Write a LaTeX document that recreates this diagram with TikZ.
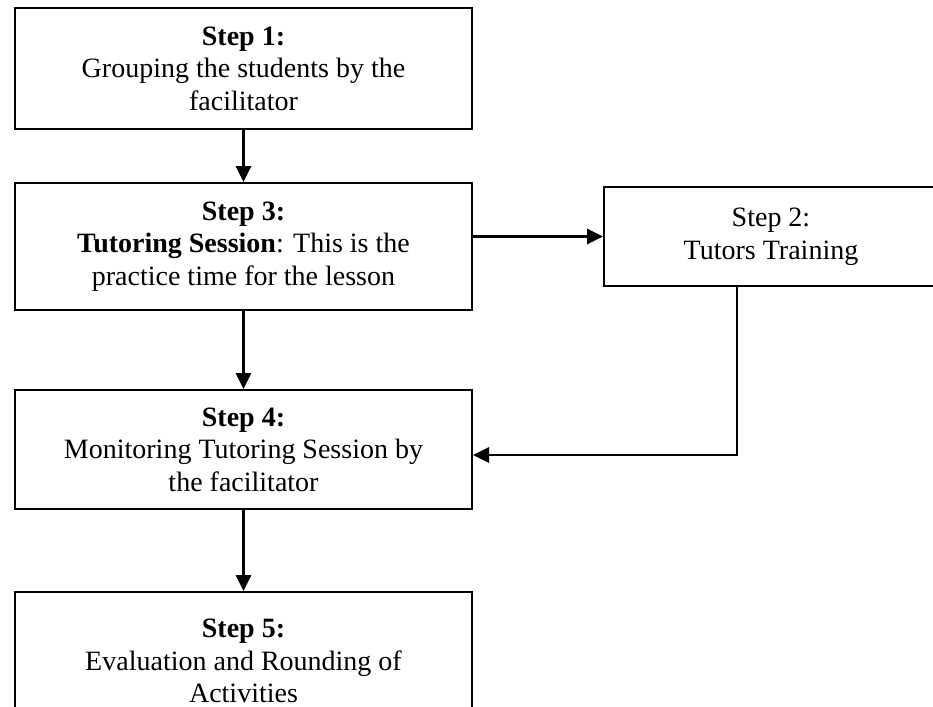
\documentclass[tikz,border=0pt]{standalone}
\usepackage{fontspec}
\setmainfont{Liberation Serif}
\usepackage{xcolor}
\definecolor{lineDark}{HTML}{000000}
\usepackage{tikz}
\usetikzlibrary{positioning,calc,arrows.meta}
\tikzset{
  stepBox/.style={
    rectangle,
    draw=lineDark,
    fill=white,
    line width=1pt,
    inner sep=0pt,
    minimum width=228.5pt,
    minimum height=60.5pt,
    align=center,
    font=\fontsize{14}{16.25}\selectfont
 },
  arrowLine/.style={
    -{Triangle[length=8pt,width=7.5pt]},
    line width=1.4pt,
    color=lineDark
 }
}

\begin{document}
\begin{tikzpicture}
            \useasboundingbox (0,0) rectangle (466.5pt,-353.5pt);
            \clip (0,0) rectangle (466.5pt,-353.5pt);
            % Step 1 box
            \node[stepBox, anchor=north west] (step1) at (7pt,-3.5pt)
                {\textbf{Step 1:}\\Grouping the students by the\\facilitator};
            % Step 3 box
            \node[stepBox, minimum height=63.5pt, below=26pt of step1] (step3)
                {\textbf{Step 3:}\\\textbf{Tutoring Session}: This is the\\practice time for the lesson};
            % Step 2 box (side)
            \node[stepBox, minimum width=167pt, minimum height=49.5pt,
                  below right=2pt and 65pt of step3.north east] (step2)
                {Step 2:\\Tutors Training};
            % Step 4 box
            \node[stepBox, minimum height=59.5pt, below=39pt of step3] (step4)
                {\textbf{Step 4:}\\Monitoring Tutoring Session by\\the facilitator};
            % Step 5 box
            \node[stepBox, minimum height=69pt, below=40.5pt of step4] (step5)
                {\textbf{Step 5:}\\Evaluation and Rounding of\\Activities};

            \draw[arrowLine] (step1) -- (step3);
            \draw[arrowLine] (step3) -- (step4);
            \draw[arrowLine] (step4) -- (step5);
            \draw[arrowLine] (step3.east |- step2.west) -- (step2.west);
            \draw[arrowLine] ([xshift=67pt]step2.south west) |- ([yshift=-2.75pt]step4.east);
        \end{tikzpicture}
\end{document}
